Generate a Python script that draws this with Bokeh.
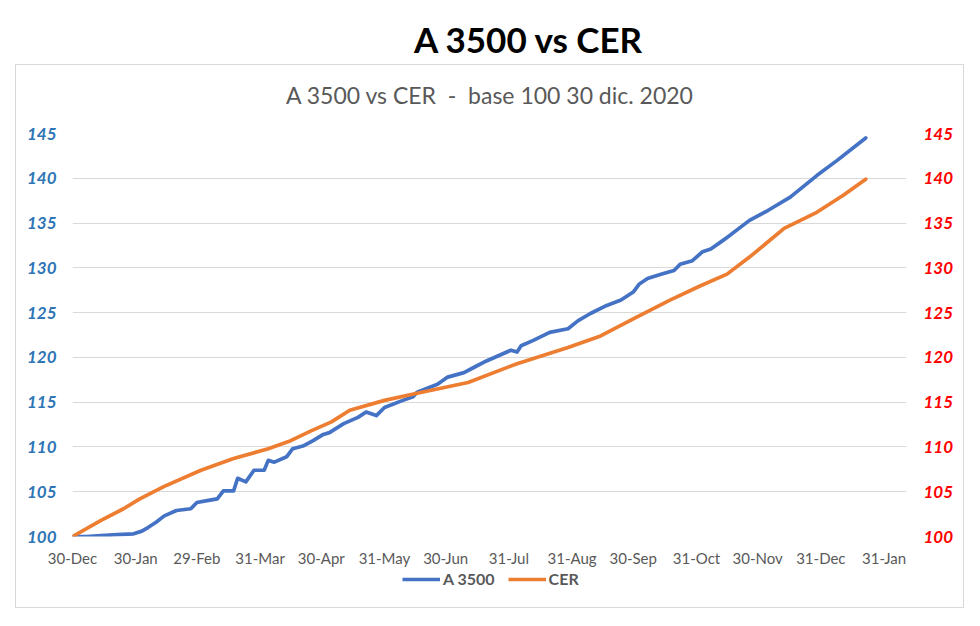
from bokeh.plotting import figure
from bokeh.models import (Range1d, LinearAxis, FixedTicker, Legend, LegendItem,
                          Div, Column, Row, Spacer)
from bokeh.embed import file_html
from bokeh.resources import INLINE

# ---------------- data ----------------
title_main = "A 3500 vs CER"
title_sub = "A 3500 vs CER  -  base 100 30 dic. 2020"

tick_days = [0, 31, 61, 92, 122, 153, 183, 214, 245, 275, 306, 336, 367, 398]
tick_labels = ["30-Dec", "30-Jan", "29-Feb", "31-Mar", "30-Apr", "31-May", "30-Jun",
               "31-Jul", "31-Aug", "30-Sep", "31-Oct", "30-Nov", "31-Dec", "31-Jan"]

y_ticks = [100, 105, 110, 115, 120, 125, 130, 135, 140, 145]

a3500_days = [0, 7, 14, 22, 30, 34, 37, 41, 45, 51, 58, 61, 66, 71, 74, 79, 81, 85, 89,
              94, 96, 99, 105, 108, 113, 118, 123, 126, 133, 140, 144, 149, 153, 162,
              167, 169, 179, 184, 192, 197, 203, 215, 218, 220, 226, 234, 243, 248, 254,
              262, 269, 275, 278, 282, 289, 295, 298, 304, 309, 313, 318, 321, 332, 341,
              352, 365, 375, 389]
a3500_vals = [100.0, 100.0, 100.1, 100.2, 100.3, 100.6, 101.0, 101.6, 102.3, 102.9, 103.1,
              103.8, 104.0, 104.2, 105.1, 105.1, 106.5, 106.1, 107.4, 107.4, 108.5, 108.3,
              108.9, 109.8, 110.1, 110.7, 111.4, 111.6, 112.6, 113.3, 113.9, 113.5, 114.4,
              115.2, 115.6, 116.1, 117.0, 117.8, 118.3, 118.9, 119.6, 120.8, 120.6, 121.3,
              121.9, 122.8, 123.2, 124.1, 124.9, 125.8, 126.4, 127.3, 128.2, 128.8, 129.3,
              129.7, 130.4, 130.8, 131.8, 132.1, 132.9, 133.4, 135.3, 136.4, 137.9, 140.3,
              142.0, 144.5]

cer_days = [0, 14, 25, 33, 45, 63, 79, 96, 107, 117, 127, 136, 153, 169, 194, 218, 243,
            259, 275, 293, 308, 321, 332, 349, 365, 378, 389]
cer_vals = [100.0, 101.8, 103.1, 104.2, 105.6, 107.4, 108.7, 109.8, 110.7, 111.8, 112.8,
            114.1, 115.2, 116.0, 117.2, 119.3, 121.1, 122.4, 124.3, 126.4, 128.0, 129.3,
            131.2, 134.4, 136.2, 138.1, 139.9]

series_names = ["A 3500", "CER"]
series_colors = ["#4472C4", "#ED7D31"]
series_days = [a3500_days, cer_days]
series_vals = [a3500_vals, cer_vals]

FONT = "Lato"
GRAY = "#595959"
INNER_W = 947

# ---------------- main plot ----------------
p = figure(width=INNER_W, height=461, output_backend="svg", toolbar_location=None,
           title=None,
           x_range=Range1d(0, 409), y_range=Range1d(100, 145),
           min_border_left=56, min_border_right=57, min_border_top=24,
           min_border_bottom=34)
p.outline_line_color = None
p.background_fill_color = "white"
p.border_fill_color = "white"

p.extra_y_ranges = {"right": Range1d(100, 145)}

ax_l = p.yaxis[0]
ax_l.ticker = FixedTicker(ticks=y_ticks)
ax_r = LinearAxis(y_range_name="right", ticker=FixedTicker(ticks=y_ticks))
p.add_layout(ax_r, "right")

for ax, col, so in ((ax_l, "#2E75B6", 16), (ax_r, "#FF0000", 17)):
    ax.axis_line_color = None
    ax.major_tick_line_color = None
    ax.minor_tick_line_color = None
    ax.major_tick_out = 0
    ax.major_tick_in = 0
    ax.major_label_standoff = so
    ax.major_label_text_font = FONT
    ax.major_label_text_font_size = "17px"
    ax.major_label_text_font_style = "bold italic"
    ax.major_label_text_color = col

xa = p.xaxis[0]
xa.ticker = FixedTicker(ticks=tick_days)
xa.major_label_overrides = {d: lab for d, lab in zip(tick_days, tick_labels)}
xa.axis_line_color = None
xa.major_tick_line_color = None
xa.minor_tick_line_color = None
xa.major_tick_out = 0
xa.major_tick_in = 0
xa.major_label_standoff = 12
xa.major_label_text_font = FONT
xa.major_label_text_font_size = "15px"
xa.major_label_text_color = GRAY

p.xgrid.grid_line_color = None
p.ygrid.grid_line_color = "#D9D9D9"
p.ygrid.grid_line_width = 1

for d, v, c in zip(series_days, series_vals, series_colors):
    p.line(d, v, line_color=c, line_width=3.7, line_join="round", line_cap="round")

# ---------------- legend strip (same series, plotted out of view) ----------------
pl = figure(width=INNER_W, height=37, output_backend="svg", toolbar_location=None,
            title=None, x_range=Range1d(-20, -10), y_range=Range1d(0, 1),
            x_axis_type=None, y_axis_type=None, min_border=0)
pl.outline_line_color = None
pl.background_fill_color = "white"
pl.border_fill_color = "white"
lr = [pl.line(d, v, line_color=c, line_width=3.7)
      for d, v, c in zip(series_days, series_vals, series_colors)]
legend = Legend(items=[LegendItem(label=n, renderers=[r]) for n, r in zip(series_names, lr)],
                orientation="horizontal", location=(330, 19),
                glyph_width=38, glyph_height=16, label_standoff=3, spacing=13,
                padding=2, margin=0,
                label_text_font=FONT, label_text_font_size="16px",
                label_text_font_style="bold", label_text_color=GRAY,
                border_line_color=None, background_fill_alpha=0)
pl.add_layout(legend, "center")

# ---------------- titles ----------------
sub_div = Div(text=('<div style="width:%dpx;text-align:center;padding-top:16px;'
                    'font-family:Lato;font-size:23px;color:%s;white-space:pre;'
                    'line-height:normal">%s</div>') % (INNER_W, GRAY, title_sub),
              width=INNER_W, height=44, margin=0)

box = Column(children=[sub_div, p, pl], spacing=0, margin=0,
             styles={"border": "1px solid #D9D9D9", "background": "white"})

title_div = Div(text=('<div style="width:856px;margin-left:100px;text-align:center;'
                      'padding-top:18px;font-family:Lato;font-weight:bold;'
                      'font-size:35px;color:#000;line-height:normal">'
                      + title_main + '</div>'),
                width=960, height=64, margin=0)

layout = Column(children=[title_div,
                          Row(children=[Spacer(width=15, height=545), box],
                              spacing=0, margin=0)],
                spacing=0, margin=0)

open("out.html", "w").write(file_html(layout, INLINE))
